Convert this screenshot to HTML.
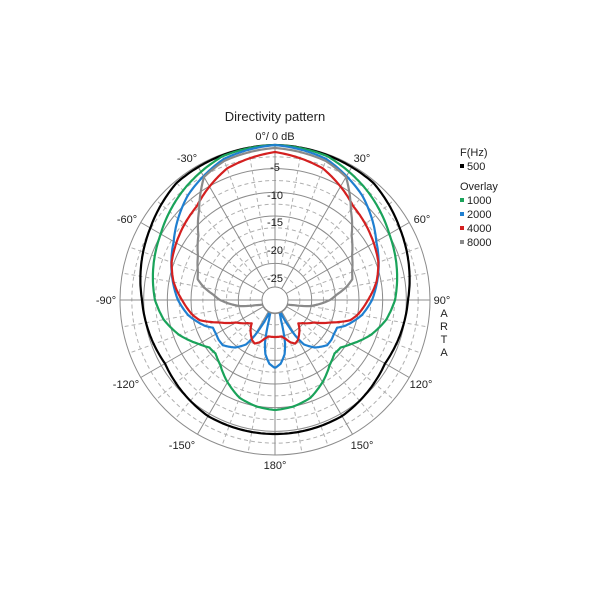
<!DOCTYPE html>
<html><head><meta charset="utf-8"><style>
body{margin:0;background:#fff;}
svg{display:block;font-family:"Liberation Sans",Arial,sans-serif;}
</style></head><body>
<svg id="s" width="600" height="600" viewBox="0 0 600 600" xmlns="http://www.w3.org/2000/svg">
<rect width="600" height="600" fill="#fff"/>
<g id="grid"></g>
<g id="curves" fill="none" stroke-width="2.2" stroke-linejoin="round"></g>
<circle cx="275" cy="300" r="13" fill="#fff" stroke="#888" stroke-width="1"/>
<g font-size="11" fill="#222" text-anchor="middle">
<text x="275" y="121" font-size="13">Directivity pattern</text>
<text x="275" y="140">0°/ 0 dB</text>
<text x="275" y="171">-5</text>
<text x="275" y="199">-10</text>
<text x="275" y="226">-15</text>
<text x="275" y="254">-20</text>
<text x="275" y="282">-25</text>
<text x="362" y="162">30°</text>
<text x="187" y="162">-30°</text>
<text x="422" y="223">60°</text>
<text x="127" y="223">-60°</text>
<text x="442" y="304">90°</text>
<text x="106" y="304">-90°</text>
<text x="421" y="388">120°</text>
<text x="126" y="388">-120°</text>
<text x="362" y="449">150°</text>
<text x="182" y="449">-150°</text>
<text x="275" y="469">180°</text>
<text x="444" y="317">A</text>
<text x="444" y="330">R</text>
<text x="444" y="343">T</text>
<text x="444" y="356">A</text>
</g>
<g font-size="11" fill="#222">
<text x="460" y="156">F(Hz)</text>
<rect x="460" y="164" width="4" height="4" fill="#000"/><text x="467" y="170">500</text>
<text x="460" y="190">Overlay</text>
<rect x="460" y="198" width="4" height="4" fill="#1aa35a"/><text x="467" y="204">1000</text>
<rect x="460" y="212" width="4" height="4" fill="#1f7fd0"/><text x="467" y="218">2000</text>
<rect x="460" y="226" width="4" height="4" fill="#d42020"/><text x="467" y="232">4000</text>
<rect x="460" y="240" width="4" height="4" fill="#8a8a8a"/><text x="467" y="246">8000</text>
</g>
</svg>
<script>
var cx=275,cy=300,R=155,NS="http://www.w3.org/2000/svg";
var g=document.getElementById('grid');
function el(t,a,p){var e=document.createElementNS(NS,t);for(var k in a)e.setAttribute(k,a[k]);p.appendChild(e);return e;}
for(var i=0;i<=12;i++){var r=13+(R-13)*i/12;if(i==0)continue;
 var solid=(i%2==0);
 el('circle',{cx:cx,cy:cy,r:r,fill:'none',stroke:solid?'#8c8c8c':'#b0b0b0','stroke-width':1,'stroke-dasharray':solid?'':'4,3'},g);}
for(var a=0;a<360;a+=10){var t=a*Math.PI/180,s=a%30==0;
 var r0=s?13:13+(R-13)/6;
 el('line',{x1:cx+r0*Math.sin(t),y1:cy-r0*Math.cos(t),x2:cx+R*Math.sin(t),y2:cy-R*Math.cos(t),stroke:s?'#8c8c8c':'#b0b0b0','stroke-width':1,'stroke-dasharray':s?'':'4,3'},g);}
var data={
'#000':[[0,155],[40,153],[60,144],[90,133],[120,127],[150,134],[180,134]],
'#1aa35a':[[0,155],[20,153],[40,143],[60,132],[90,120],[100,113],[110,102],[120,88],[126,81],[132,80],[140,85],[149,94],[160,104],[170,108],[180,110]],
'#1f7fd0':[[0,155],[20,150],[40,136],[60,117],[90,97],[100,88],[110,75],[114,68],[120,68],[125,69],[131,69],[140,62],[147,53],[150,42],[153,28],[156,14],[160,13],[163,20],[167,45],[170,55],[175,64],[180,68]],
'#d42020':[[0,148],[20,140],[40,122],[60,114],[70,110],[80,103],[90,93],[100,84],[105,78],[112,60],[120,45],[130,36],[135,33],[140,38],[145,42],[150,46],[155,48],[160,45],[165,40],[170,37],[180,37]],
'#8a8a8a':[[0,152],[20,148],[30,142],[40,118],[50,100],[60,89],[70,82],[75,80],[80,72],[85,62],[90,55],[95,45],[100,35],[105,20],[110,13],[180,13]]
};
var cg=document.getElementById('curves');
function interp(tb,a){for(var i=1;i<tb.length;i++){if(a<=tb[i][0]){var p=tb[i-1],q=tb[i];return p[1]+(q[1]-p[1])*(a-p[0])/(q[0]-p[0]);}}return tb[tb.length-1][1];}
for(var c in data){var pts=[];for(var a=-180;a<=180;a+=1){var r=interp(data[c],Math.abs(a)),t=a*Math.PI/180;pts.push((cx+r*Math.sin(t)).toFixed(1)+','+(cy-r*Math.cos(t)).toFixed(1));}
 el('polyline',{points:pts.join(' '),stroke:c},cg);}
</script>
</body></html>
